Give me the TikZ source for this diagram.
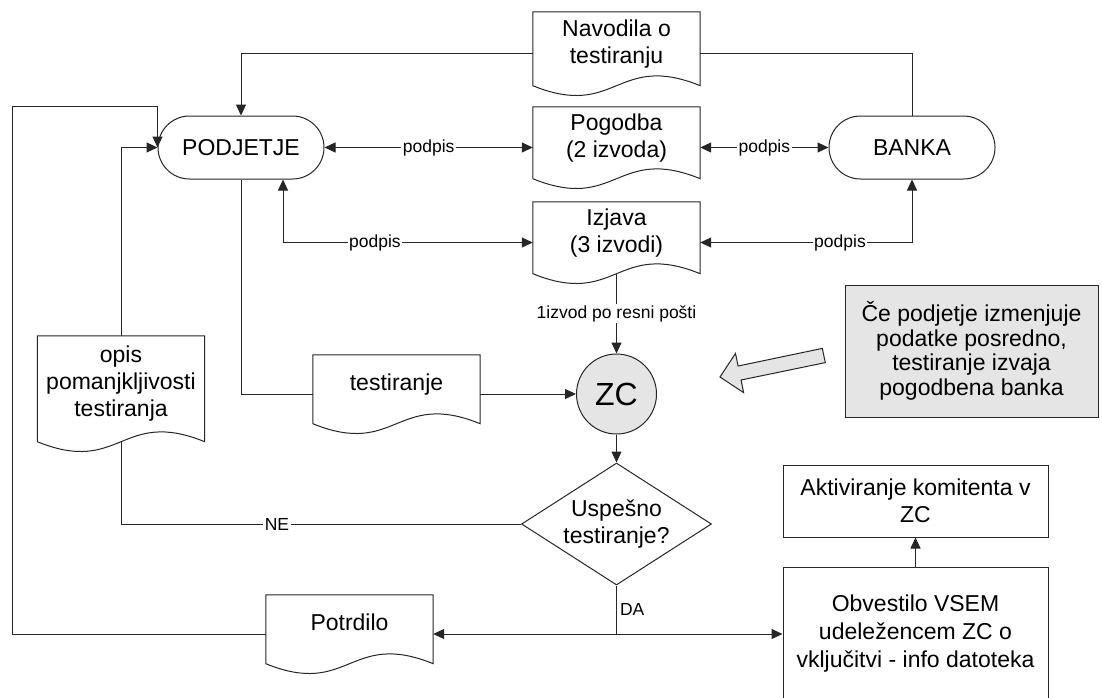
\documentclass[tikz,border=0pt]{standalone}
\usepackage{fontspec}
\setmainfont{Liberation Sans}
\usetikzlibrary{arrows.meta,shapes.geometric}

% document symbol: straight top and sides, wavy bottom edge
\newcommand\docoutline[1]{%
  \draw[line] (#1.north west) -- (#1.north east) -- ([yshift=9.5pt]#1.south east)
    .. controls ([yshift=43.5pt]#1.south) and ([yshift=-24.5pt]#1.south) ..
    ([yshift=9.5pt]#1.south west) -- cycle;}

\tikzset{
  line/.style={draw=black!85, line width=1pt},
  arr/.style={line, -{Triangle[length=11pt,width=10pt]}},
  arrs/.style={line, {Triangle[length=11pt,width=10pt]}-{Triangle[length=11pt,width=10pt]}},
  bigtext/.style={font=\fontsize{23}{27}\selectfont, align=center},
  small/.style={font=\fontsize{17.5}{20}\selectfont},
  lbl/.style={small, fill=white, inner sep=1.5pt},
  term/.style={bigtext, line, rectangle, rounded corners=31.5pt,
    minimum width=166pt, minimum height=63pt, inner sep=0pt},
  doc/.style={bigtext, minimum width=167pt, inner sep=0pt, text depth=24pt},
  proc/.style={bigtext, line, rectangle, inner sep=0pt},
  shade/.style={fill=black!10},
}

\begin{document}
\begin{tikzpicture}[x=1pt,y=-1pt]
\fill[white] (0,0) rectangle (1102,697);
\useasboundingbox (0,0) rectangle (1102,697);
\clip (0,0) rectangle (1102,697);

% documents
\node[doc, minimum height=83pt] (nav) at (616.5,53.5) {Navodila o\\testiranju};
\node[doc, minimum height=81pt] (pog) at (616.5,147.5) {Pogodba\\(2 izvoda)};
\node[doc, minimum height=81pt] (izj) at (616.5,242.5) {Izjava\\(3 izvodi)};
\node[doc, minimum height=78pt] (test) at (396.5,394) {testiranje};
\node[doc, minimum height=78pt] (pot) at (349.5,634) {Potrdilo};
\node[doc, minimum height=115pt] (opis) at (121,393.5) {opis\\pomanjkljivosti\\testiranja};
\docoutline{nav}
\docoutline{pog}
\docoutline{izj}
\docoutline{test}
\docoutline{pot}
\docoutline{opis}

% terminals
\node[term] (podj) at (241,147.5) {PODJETJE};
\node[term] (banka) at (912,147.5) {BANKA};

% central node and decision
\node[line, shade, circle, minimum size=80pt, inner sep=0pt,
      font=\fontsize{32}{36}\selectfont] (zc) at (616.5,394) {ZC};
\node[line, diamond, bigtext, aspect=1.56, minimum width=190pt,
      minimum height=122pt, inner sep=0pt] (dec) at (616.5,524) {Uspešno\\testiranje?};

% process boxes
\node[proc, minimum width=265pt, minimum height=72pt] (akt) at (915.5,501)
  {Aktiviranje komitenta v\\ZC};
\node[proc, minimum width=265pt, minimum height=134pt,
      font=\fontsize{23}{28}\selectfont] (obv) at (915.5,634)
  {Obvestilo VSEM\\udeležencem ZC o\\vključitvi - info datoteka};

% note
\node[proc, shade, minimum width=253pt, minimum height=132pt,
      font=\fontsize{23}{24.5}\selectfont] (note) at (971.5,351)
  {Če podjetje izmenjuje\\podatke posredno,\\testiranje izvaja\\pogodbena banka};

% hollow block arrow pointing from the note towards ZC
\filldraw[line, shade] (720,377) -- (743.6,392.6) -- (741.1,380) -- (825.3,362.6)
  -- (822.3,348.4) -- (738.1,366) -- (735.5,353.4) -- cycle;

% connectors
\draw[arr] (nav.west) -| (podj.north);
\draw[line] (banka.north) |- (nav.east);
\draw[arrs] (podj.east) -- node[lbl]{podpis} (pog.west);
\draw[arrs] (pog.east) -- node[lbl]{podpis} (banka.west);
\draw[arrs] (izj.west) -| node[lbl, pos=0.316]{podpis} ([xshift=42pt]podj.south);
\draw[arrs] (izj.east) -| node[lbl, pos=0.33]{podpis} (banka.south);
\draw[arr] ([yshift=9.5pt]izj.south) -- node[lbl]{1izvod po resni pošti} (zc.north);
\draw[line] (podj.south) |- (test.west);
\draw[arr] (test.east) -- (zc.west);
\draw[arr] (zc.south) -- (dec.north);
\draw[arr] (opis.north) |- (podj.west);
\draw[line] (dec.west) -| node[lbl, pos=0.305]{NE} ([yshift=9.5pt]opis.south);
\coordinate (split) at (dec.south |- pot.east);
\draw[line] (dec.south) -- node[right, small, inner sep=3pt]{DA} (split);
\draw[arr] (split) -- (pot.east);
\draw[arr] (split) -- (obv.west);
\draw[arr] (obv.north) -- (akt.south);
\coordinate (loop) at (12,106);
\draw[arr] (pot.west) -| (loop) -| (podj.west);
\end{tikzpicture}
\end{document}
